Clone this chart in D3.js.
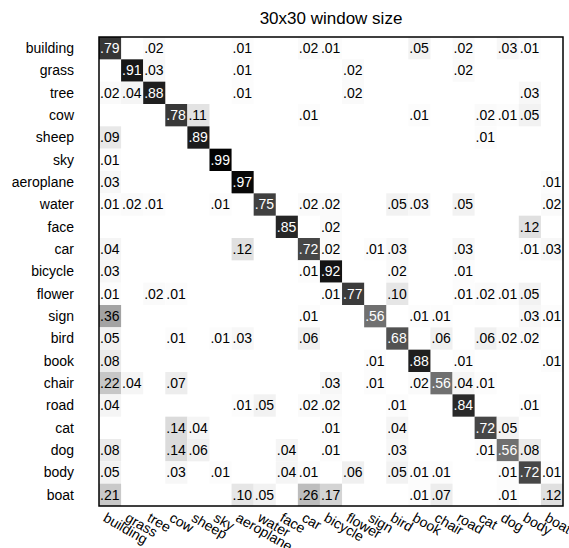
<!DOCTYPE html>
<html>
<head>
<meta charset="utf-8">
<script src="https://cdn.jsdelivr.net/npm/d3@7"></script>
<style>
body { margin: 0; background: #fff; }
text { font-family: "Liberation Sans", Arial, Helvetica, sans-serif; }
</style>
</head>
<body>
<svg width="569" height="548"></svg>
<script>
// class names, rows = true class, columns = predicted class
var classes = ['building','grass','tree','cow','sheep','sky','aeroplane','water','face','car',
               'bicycle','flower','sign','bird','book','chair','road','cat','dog','body','boat'];

var title = '30x30 window size';

// one array per row (blank cell = 0)
var building  = [.79,0,.02,0,0,0,.01,0,0,.02,.01,0,0,0,.05,0,.02,0,.03,.01,0];
var grass     = [0,.91,.03,0,0,0,.01,0,0,0,0,.02,0,0,0,0,.02,0,0,0,0];
var tree      = [.02,.04,.88,0,0,0,.01,0,0,0,0,.02,0,0,0,0,0,0,0,.03,0];
var cow       = [0,0,0,.78,.11,0,0,0,0,.01,0,0,0,0,.01,0,0,.02,.01,.05,0];
var sheep     = [.09,0,0,0,.89,0,0,0,0,0,0,0,0,0,0,0,0,.01,0,0,0];
var sky       = [.01,0,0,0,0,.99,0,0,0,0,0,0,0,0,0,0,0,0,0,0,0];
var aeroplane = [.03,0,0,0,0,0,.97,0,0,0,0,0,0,0,0,0,0,0,0,0,.01];
var water     = [.01,.02,.01,0,0,.01,0,.75,0,.02,.02,0,0,.05,.03,0,.05,0,0,0,.02];
var face      = [0,0,0,0,0,0,0,0,.85,0,.02,0,0,0,0,0,0,0,0,.12,0];
var car       = [.04,0,0,0,0,0,.12,0,0,.72,.02,0,.01,.03,0,0,.03,0,0,.01,.03];
var bicycle   = [.03,0,0,0,0,0,0,0,0,.01,.92,0,0,.02,0,0,.01,0,0,0,0];
var flower    = [.01,0,.02,.01,0,0,0,0,0,0,.01,.77,0,.10,0,0,.01,.02,.01,.05,0];
var sign      = [.36,0,0,0,0,0,0,0,0,.01,0,0,.56,0,.01,.01,0,0,0,.03,.01];
var bird      = [.05,0,0,.01,0,.01,.03,0,0,.06,0,0,0,.68,0,.06,0,.06,.02,.02,0];
var book      = [.08,0,0,0,0,0,0,0,0,0,0,0,.01,0,.88,0,.01,0,0,0,.01];
var chair     = [.22,.04,0,.07,0,0,0,0,0,0,.03,0,.01,0,.02,.56,.04,.01,0,0,0];
var road      = [.04,0,0,0,0,0,.01,.05,0,.02,.02,0,0,.01,0,0,.84,0,0,.01,0];
var cat       = [0,0,0,.14,.04,0,0,0,0,0,.01,0,0,.04,0,0,0,.72,.05,0,0];
var dog       = [.08,0,0,.14,.06,0,0,0,.04,0,.01,0,0,.03,0,0,0,.01,.56,.08,0];
var body      = [.05,0,0,.03,0,.01,0,0,.04,.01,0,.06,0,.05,.01,.01,0,0,.01,.72,.01];
var boat      = [.21,0,0,0,0,0,.10,.05,0,.26,.17,0,0,0,.01,.07,0,0,.01,0,.12];

var matrix = [building,grass,tree,cow,sheep,sky,aeroplane,water,face,car,bicycle,
              flower,sign,bird,book,chair,road,cat,dog,body,boat];

// flatten into cells
var cells = [];
matrix.forEach(function(row, i){
    row.forEach(function(v, j){
        cells.push({'row': classes[i], 'col': classes[j], 'v': v});
    });
});

var svg = d3.select('svg');
// note: "top" clashes with window.top, so use other names
var x0 = 99, x1 = 563, y0 = 37, y1 = 506;

var x = d3.scaleBand().domain(classes).range([x0, x1]);
var y = d3.scaleBand().domain(classes).range([y0, y1]);
// white for 0, black for 1
var grey = d3.scaleLinear().domain([0, 1]).range(['#ffffff', '#000000']);

var g = svg.append('g');

var nonzero = cells.filter(d=>d.v > 0);

g.selectAll('rect.cell')
    .data(nonzero)
    .enter()
    .append('rect')
    .attr('class', 'cell')
    .attr('x', d=>x(d.col))
    .attr('y', d=>y(d.row))
    .attr('width', x.bandwidth())
    .attr('height', y.bandwidth())
    .attr('fill', d=>grey(d.v));

g.selectAll('text.val')
    .data(nonzero)
    .enter()
    .append('text')
    .attr('class', 'val')
    .attr('x', d=>x(d.col) + 1)
    .attr('y', d=>y(d.row) + y.bandwidth()/2)
    .attr('dy', '0.35em')
    .style('font-size', '14px')
    .attr('fill', d=>d.v > 0.5 ? '#fff' : '#000')
    .text(d=>d3.format('.2f')(d.v).replace(/^0/, ''));

// frame
svg.append('rect')
    .attr('x', x0)
    .attr('y', y0)
    .attr('width', x1 - x0)
    .attr('height', y1 - y0)
    .attr('fill', 'none')
    .attr('stroke', '#000')
    .attr('stroke-width', 1.5);

// row labels
svg.selectAll('text.rowlab')
    .data(classes)
    .enter()
    .append('text')
    .attr('class', 'rowlab')
    .attr('x', x0 - 25)
    .attr('y', d=>y(d) + y.bandwidth()/2)
    .attr('dy', '0.35em')
    .attr('text-anchor', 'end')
    .style('font-size', '14px')
    .text(d=>d);

// column labels, slanted
svg.selectAll('text.collab')
    .data(classes)
    .enter()
    .append('text')
    .attr('class', 'collab')
    .attr('transform', d=>`translate(${x(d) + x.bandwidth()/2 - 3},${y1 + 6}) rotate(30)`)
    .attr('dy', '0.7em')
    .style('font-size', '14px')
    .text(d=>d);

svg.append('text')
    .attr('x', (x0 + x1)/2)
    .attr('y', 24)
    .attr('text-anchor', 'middle')
    .style('font-size', '17px')
    .text(title);
</script>
</body>
</html>
